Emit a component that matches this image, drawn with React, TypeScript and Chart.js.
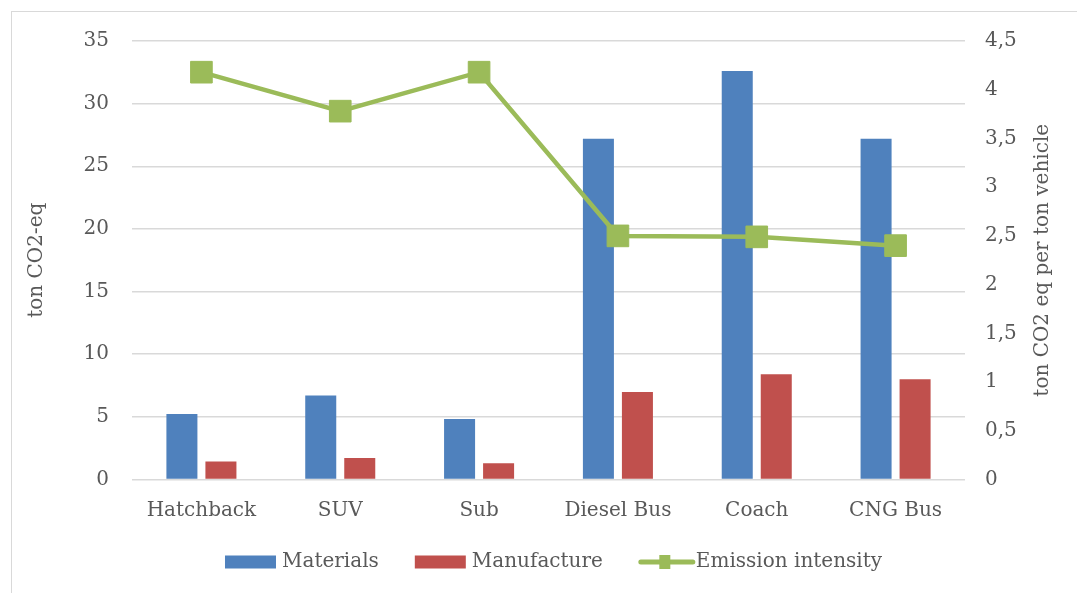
import { useEffect, useRef } from 'react';
import { Chart, registerables } from 'chart.js';

Chart.register(...registerables);

const categories = ['Hatchback', 'SUV', 'Sub', 'Diesel Bus', 'Coach', 'CNG Bus'];
const materials = [5.22, 6.7, 4.82, 27.2, 32.6, 27.2];
const manufacture = [1.44, 1.72, 1.29, 6.98, 8.41, 8.01];
const emissionIntensity = [4.18, 3.78, 4.18, 2.5, 2.49, 2.4];

const seriesNames = ['Materials', 'Manufacture', 'Emission intensity'];
const leftTitle = 'ton CO2-eq';
const rightTitle = 'ton CO2 eq per ton vehicle';

const BLUE = '#4F81BD';
const RED = '#C0504D';
const GREEN = '#9BBB59';
const TEXT = '#595959';
const GRID = '#d9d9d9';
const FONT = "'DejaVu Serif', serif";
const FONT_SIZE = 20;

const W = 1077;
const H = 593;

// Legend drawn on the canvas: boxes for bars, a line with a square marker for the line series.
const comboLegend = {
  id: 'comboLegend',
  afterDraw(chart: any) {
    const { ctx, chartArea } = chart;
    ctx.save();
    ctx.font = `${FONT_SIZE}px ${FONT}`;
    ctx.textBaseline = 'middle';
    const swatchW = 51;
    const gap = 6;
    const itemGap = 36;
    const datasets = chart.data.datasets;
    const widths = datasets.map((ds: any) => swatchW + gap + ctx.measureText(ds.label).width);
    const total = widths.reduce((a: number, b: number) => a + b, 0) + itemGap * (datasets.length - 1);
    let x = (chartArea.left + chartArea.right) / 2 + 5 - total / 2;
    const y = chart.height - 31;
    datasets.forEach((ds: any, i: number) => {
      if (ds.type === 'line') {
        ctx.strokeStyle = ds.borderColor;
        ctx.lineWidth = 5;
        ctx.lineCap = 'round';
        ctx.beginPath();
        ctx.moveTo(x + 2, y);
        ctx.lineTo(x + swatchW + 3, y);
        ctx.stroke();
        ctx.fillStyle = ds.backgroundColor;
        ctx.fillRect(x + swatchW / 2 - 5, y - 7, 11, 14);
      } else {
        ctx.fillStyle = ds.backgroundColor;
        ctx.fillRect(x, y - 6.5, swatchW, 13);
      }
      ctx.fillStyle = TEXT;
      ctx.textAlign = 'left';
      ctx.fillText(ds.label, x + swatchW + gap, y);
      x += widths[i] + itemGap;
    });
    ctx.restore();
  },
};

// Right-hand axis title, reading bottom to top.
const rightAxisTitle = {
  id: 'rightAxisTitle',
  afterDraw(chart: any) {
    const { ctx, chartArea } = chart;
    ctx.save();
    ctx.font = `${FONT_SIZE}px ${FONT}`;
    ctx.fillStyle = TEXT;
    ctx.textAlign = 'center';
    ctx.textBaseline = 'middle';
    ctx.translate(1043, (chartArea.top + chartArea.bottom) / 2);
    ctx.rotate(-Math.PI / 2);
    ctx.fillText(rightTitle, 0, 0);
    ctx.restore();
  },
};

export default function App() {
  const canvasRef = useRef<HTMLCanvasElement | null>(null);

  useEffect(() => {
    const canvas = canvasRef.current;
    if (!canvas) return;
    const font = { family: FONT, size: FONT_SIZE };
    const chart = new Chart(canvas, {
      type: 'bar',
      data: {
        labels: categories,
        datasets: [
          {
            type: 'bar',
            label: seriesNames[0],
            data: materials,
            backgroundColor: BLUE,
            yAxisID: 'y',
            order: 1,
            categoryPercentage: 0.562,
            barPercentage: 0.795,
          },
          {
            type: 'bar',
            label: seriesNames[1],
            data: manufacture,
            backgroundColor: RED,
            yAxisID: 'y',
            order: 1,
            categoryPercentage: 0.562,
            barPercentage: 0.795,
          },
          {
            type: 'line',
            label: seriesNames[2],
            data: emissionIntensity,
            borderColor: GREEN,
            backgroundColor: GREEN,
            borderWidth: 4.5,
            pointStyle: 'rect',
            pointRadius: 15.3,
            pointBorderWidth: 1,
            pointBorderColor: GREEN,
            pointBackgroundColor: GREEN,
            yAxisID: 'y1',
            order: 0,
          } as any,
        ],
      },
      options: {
        responsive: false,
        animation: false,
        layout: { padding: { top: 41, left: 0, right: 0, bottom: 0 } },
        plugins: {
          legend: { display: false },
          tooltip: { enabled: false },
        },
        scales: {
          x: {
            grid: { display: false, drawTicks: false },
            border: { display: false },
            ticks: { color: TEXT, font, padding: 19, maxRotation: 0 },
            afterFit: (scale: any) => {
              scale.height = H - 41 - 438.5;
            },
          },
          y: {
            position: 'left',
            min: 0,
            max: 35,
            grid: { color: GRID, lineWidth: 1.5, drawTicks: false },
            border: { display: false },
            ticks: { stepSize: 5, color: TEXT, font, padding: 23 },
            title: {
              display: true,
              text: leftTitle,
              color: TEXT,
              font,
              padding: { top: 25, bottom: 0 },
            },
            afterFit: (scale: any) => {
              scale.width = 132;
            },
          },
          y1: {
            position: 'right',
            min: 0,
            max: 4.5,
            grid: { display: false, drawTicks: false },
            border: { display: false },
            ticks: {
              stepSize: 0.5,
              color: TEXT,
              font,
              padding: 20,
              callback: (v: any) => String(v).replace('.', ','),
            },
            afterFit: (scale: any) => {
              scale.width = W - 965;
            },
          },
        },
      },
      plugins: [comboLegend, rightAxisTitle],
    });
    return () => chart.destroy();
  }, []);

  return (
    <div
      style={{
        position: 'fixed',
        left: 0,
        top: 0,
        width: W,
        height: H,
        overflow: 'hidden',
        background: '#ffffff',
      }}
    >
      <canvas ref={canvasRef} width={W} height={H} style={{ position: 'absolute', left: 0, top: 0 }} />
      <div
        style={{
          position: 'absolute',
          left: 11,
          top: 11,
          width: W + 20,
          height: H + 20,
          border: `1px solid ${GRID}`,
          pointerEvents: 'none',
        }}
      />
    </div>
  );
}
